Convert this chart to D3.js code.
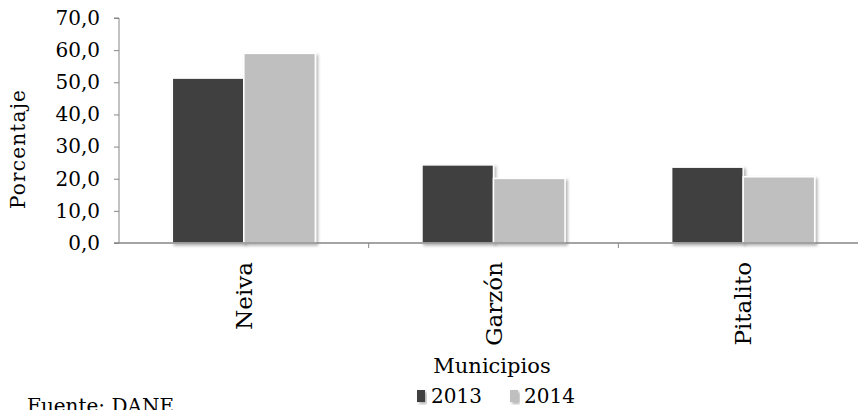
<!DOCTYPE html>
<html>
<head>
<meta charset="utf-8">
<script src="https://cdn.jsdelivr.net/npm/d3@7"></script>
<style>
  body { margin: 0; background: #fff; }
  text { font-family: "DejaVu Serif", serif; fill: #000; }
</style>
</head>
<body>
<svg id="chart" width="858" height="410"></svg>
<script>
const municipios = ["Neiva", "Garzón", "Pitalito"];
const years = ["2013", "2014"];
const values2013 = [51.3, 24.3, 23.6];
const values2014 = [59.0, 20.1, 20.6];
const yTicks = [0, 10, 20, 30, 40, 50, 60, 70];
const colors = ["#404040", "#bfbfbf"];

const svg = d3.select("#chart");

const plotLeft = 119, plotRight = 868, plotTop = 18, plotBottom = 243;

const defs = svg.append("defs");
const shadow = defs.append("filter").attr("id", "shadow")
  .attr("x", "-10%").attr("y", "-10%").attr("width", "130%").attr("height", "130%");
shadow.append("feDropShadow")
  .attr("dx", 2).attr("dy", 2).attr("stdDeviation", 1.5)
  .attr("flood-color", "#000").attr("flood-opacity", 0.3);

const x0 = d3.scaleBand().domain(municipios).range([plotLeft, plotRight])
  .paddingInner(0.427).paddingOuter(0.2135);
const x1 = d3.scaleBand().domain(years).range([0, x0.bandwidth()]);
const y = d3.scaleLinear().domain([0, 70]).range([plotBottom, plotTop]);

const rows = municipios.map((m, i) => ({ m, vals: [values2013[i], values2014[i]] }));

// bars
const groups = svg.append("g").selectAll("g").data(rows).join("g")
  .attr("transform", d => `translate(${x0(d.m)},0)`);
groups.selectAll("rect").data(d => d.vals.map((v, j) => ({ v, j }))).join("rect")
  .attr("x", d => x1(years[d.j]))
  .attr("y", d => y(d.v))
  .attr("width", x1.bandwidth())
  .attr("height", d => plotBottom - y(d.v))
  .attr("fill", d => colors[d.j])
  .attr("stroke", "#fff")
  .attr("stroke-width", 1.5)
  .attr("filter", "url(#shadow)");

// y axis
const yAxis = svg.append("g").attr("transform", `translate(${plotLeft},0)`)
  .call(d3.axisLeft(y).tickValues(yTicks).tickSize(5).tickPadding(14)
    .tickFormat(d => d3.format(".1f")(d).replace(".", ",")));
yAxis.selectAll("path, line").attr("stroke", "#868686");
yAxis.select(".domain").attr("d", `M-5,${plotTop}H0V${plotBottom}`);
yAxis.selectAll("text").attr("font-size", 20).attr("font-family", "DejaVu Serif").attr("fill", "#000");

// x axis
const boundaries = municipios.map(m => x0(m) - x0.step() * x0.paddingInner() / 2);
const xAxis = svg.append("g");
xAxis.append("line").attr("x1", plotLeft - 5).attr("x2", 858).attr("y1", plotBottom).attr("y2", plotBottom)
  .attr("stroke", "#868686").attr("stroke-width", 1.5);
xAxis.selectAll(".tick").data(boundaries.slice(1)).join("line")
  .attr("x1", d => d).attr("x2", d => d).attr("y1", plotBottom).attr("y2", plotBottom + 5)
  .attr("stroke", "#868686");

svg.append("g").selectAll("text").data(municipios).join("text")
  .attr("transform", d => `translate(${x0(d) + x0.bandwidth() / 2},262) rotate(-90)`)
  .attr("text-anchor", "end")
  .attr("dy", "0.35em")
  .attr("font-size", 23)
  .text(d => d);

// axis titles
svg.append("text")
  .attr("transform", "translate(25,149) rotate(-90)")
  .attr("text-anchor", "middle")
  .attr("font-size", 20)
  .attr("letter-spacing", 1.2)
  .text("Porcentaje");

svg.append("text")
  .attr("x", 492).attr("y", 373)
  .attr("text-anchor", "middle")
  .attr("font-size", 21)
  .text("Municipios");

// legend
const legend = svg.append("g");
const legendX = [417, 510];
years.forEach((yr, j) => {
  legend.append("rect")
    .attr("x", legendX[j]).attr("y", 390).attr("width", 8).attr("height", 12)
    .attr("fill", colors[j]).attr("filter", "url(#shadow)");
  legend.append("text")
    .attr("x", legendX[j] + 14).attr("y", 403)
    .attr("font-size", 20)
    .text(yr);
});

svg.append("text")
  .attr("x", 27).attr("y", 413)
  .attr("font-size", 20)
  .text("Fuente: DANE");
</script>
</body>
</html>
